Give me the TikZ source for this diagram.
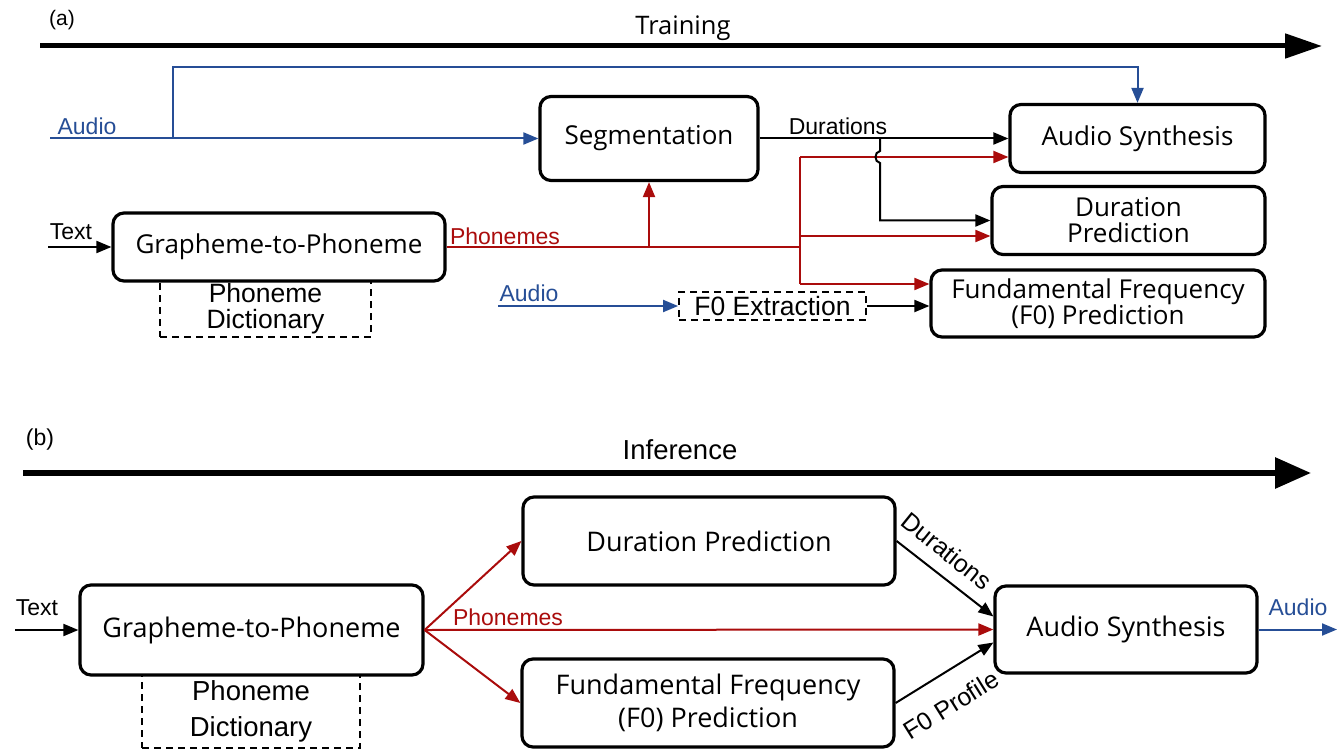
\documentclass[tikz,border=0pt]{standalone}
\usepackage{fontspec}
\setmainfont{Liberation Sans}
\newfontfamily\boxf{Open Sans}
\usetikzlibrary{arrows.meta,calc}
\definecolor{dred}{RGB}{170,12,12}
\definecolor{dblue}{RGB}{38,78,150}
\begin{document}
\begin{tikzpicture}[x=1pt,y=-1pt,
  box/.style={draw, line width=3.2pt, rounded corners=11pt, align=center, inner sep=0pt, fill=white},
  fa/.style={font=\boxf\fontsize{26}{26}\selectfont},
  fb/.style={font=\boxf\fontsize{27}{33}\selectfont},
  dbox/.style={draw, line width=1.8pt, dash pattern=on 7pt off 5pt, align=center, inner sep=0pt},
  con/.style={line width=2pt},
  tipa/.style={-{Triangle[length=15pt,width=12pt]}},
  lbla/.style={font=\fontsize{23}{25}\selectfont, inner sep=0pt},
  lblb/.style={font=\fontsize{23}{25}\selectfont, inner sep=0pt},
]
\useasboundingbox (0,0) rectangle (1337,751);

% ---------------- (a) Training ----------------
\node[font=\fontsize{21}{23}\selectfont, inner sep=0pt] (lblA) at (62,20) {(a)};
\coordinate (trs) at (40,46);
\coordinate (tre) at (1322,46);
\draw[line width=5pt, -{Triangle[length=37pt,width=24pt]}] (trs) -- (tre);
\node[font=\boxf\fontsize{25.5}{27}\selectfont, inner sep=0pt] (trn) at (683,28) {Training};

\node[dbox, minimum width=211pt, minimum height=56pt, font=\fontsize{26.5}{26}\selectfont] (dictA) at (265.5,309) {Phoneme\\Dictionary};
\node[box, fa, minimum width=332pt, minimum height=68pt] (g2pA) at (279,247) {Grapheme-to-Phoneme};
\node[box, fa, minimum width=218pt, minimum height=84pt] (seg) at (649,138.5) {Segmentation};
\node[box, fa, minimum width=255pt, minimum height=68pt] (asA) at (1137.5,138.5) {Audio Synthesis};
\node[box, fa, minimum width=273pt, minimum height=68pt] (dpA) at (1128.5,220.5) {Duration\\Prediction};
\node[box, fa, minimum width=334pt, minimum height=67pt] (f0A) at (1098,303.5) {Fundamental Frequency\\(F0) Prediction};
\node[dbox, font=\fontsize{26.5}{26}\selectfont, minimum width=187pt, minimum height=28pt] (f0x) at (772.5,306) {F0 Extraction};

% audio (blue)
\coordinate (audA) at (50,138.5);
\coordinate (jA) at (173,138.5);
\draw[con, dblue, tipa] (audA) -- (seg.west);
\draw[con, dblue, tipa] (jA) |- ($(asA.north)+(0,-36)$) -- (asA.north);
\node[lbla, text=dblue] (audAl) at (87,126) {Audio};

% text
\coordinate (txtA) at (48,247);
\draw[con, tipa] (txtA) -- (g2pA.west);
\node[lbla] (txtAl) at (71,232) {Text};

% phonemes (red)
\coordinate (jP) at (649,247);
\coordinate (vR) at (800,247);
\coordinate (vRt) at (800,157);
\coordinate (vRm) at (800,236);
\coordinate (vRb) at (800,284);
\draw[con, dred] (g2pA.east) -- (vR);
\draw[con, dred, tipa] (jP) -- (seg.south);
\draw[con, dred, tipa] (vRt) -- ($(asA.west)+(0,18.5)$);
\draw[con, dred] (vRt) -- (vRb);
\draw[con, dred, tipa] (vRm) -- (vRm -| dpA.west);
\draw[con, dred, tipa] (vRb) -- (vRb -| f0A.west);
\node[lbla, text=dred] (phAl) at (505,236) {Phonemes};

% durations (black)
\coordinate (jD) at (880,138.5);
\draw[con, tipa] (seg.east) -- (asA.west);
\draw[con, tipa] (jD) -- (880,151) .. controls (874,152) and (874,162) .. (880,163) |- (dpA.west);
\node[lbla] (durAl) at (838,126) {Durations};

% F0 extraction
\coordinate (audB) at (498,306);
\draw[con, dblue, tipa] (audB) -- (f0x.west);
\node[lbla, text=dblue] (audBl) at (529,293) {Audio};
\draw[con, tipa] (f0x.east) -- (f0x.east -| f0A.west);

% ---------------- (b) Inference ----------------
\node[font=\fontsize{23}{25}\selectfont, inner sep=0pt] (lblB) at (40,440) {(b)};
\coordinate (ins) at (23,473);
\coordinate (ine) at (1311,473);
\draw[line width=6pt, -{Triangle[length=36pt,width=30pt]}] (ins) -- (ine);
\node[font=\fontsize{27.5}{30}\selectfont, inner sep=0pt] (inf) at (680,450) {Inference};

\node[dbox, minimum width=218pt, minimum height=73pt, font=\fontsize{27.5}{36}\selectfont] (dictB) at (251,711.5) {Phoneme\\Dictionary};
\node[box, fb, minimum width=343pt, minimum height=90pt] (g2pB) at (251.5,630) {Grapheme-to-Phoneme};
\node[box, fb, minimum width=372pt, minimum height=88pt] (dpB) at (709,541) {Duration Prediction};
\node[box, fb, minimum width=372pt, minimum height=88pt] (f0B) at (708,703) {Fundamental Frequency\\(F0) Prediction};
\node[box, fb, minimum width=262pt, minimum height=87pt] (asB) at (1126,629.5) {Audio Synthesis};

\coordinate (txtB) at (15,630);
\draw[con, tipa] (txtB) -- (g2pB.west);
\node[lblb] (txtBl) at (37,608) {Text};

\draw[con, dred, tipa] (g2pB.east) -- (dpB.west);
\draw[con, dred, tipa] (g2pB.east) -- (f0B.west);
\draw[con, dred, tipa] (g2pB.east) -- (asB.west);
\node[lblb, text=dred] (phBl) at (508,617) {Phonemes};

\draw[con, tipa] (dpB.east) -- ($(asB.west)+(0,-13)$);
\node[font=\fontsize{25}{27}\selectfont, inner sep=0pt, rotate=-39] (durBl) at (947,551) {Durations};
\draw[con, tipa] (f0B.east) -- ($(asB.west)+(0,13)$);
\node[font=\fontsize{25}{27}\selectfont, inner sep=0pt, rotate=32] (f0pl) at (951,705) {F0 Profile};

\coordinate (audOut) at (1337,629.5);
\draw[con, dblue, tipa] (asB.east) -- (audOut);
\node[lblb, text=dblue] (audOl) at (1298,607) {Audio};
\end{tikzpicture}
\end{document}
